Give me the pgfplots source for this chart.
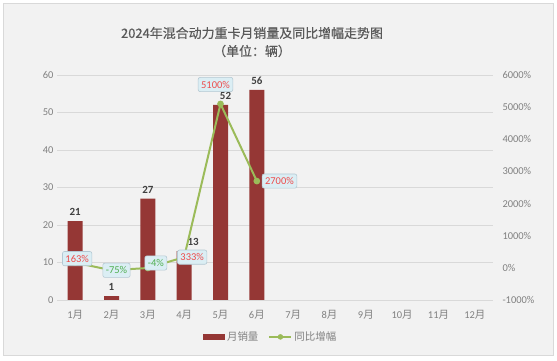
\documentclass[border=0pt]{standalone}
\usepackage{pgfplots}
\pgfplotsset{compat=1.18}
\usepackage{fontspec}
\setmainfont{Carlito}
\newfontfamily\cjk{Noto Sans CJK SC}
\newfontfamily\cjkt[FakeBold=0.5]{Noto Sans CJK SC}
\definecolor{barred}{HTML}{953735}
\definecolor{lgreen}{HTML}{9BBB59}
\definecolor{tickgray}{HTML}{808080}
\definecolor{titlegray}{HTML}{595959}
\definecolor{gridgray}{HTML}{D9D9D9}
\definecolor{panel}{HTML}{F2F2F2}
\definecolor{lblbox}{HTML}{DBEEF4}
\definecolor{lblborder}{HTML}{B4C8D2}
\definecolor{posred}{HTML}{EE4B4B}
\definecolor{neggreen}{HTML}{4FAE4F}
\definecolor{valgray}{HTML}{404040}
\tikzset{lbl/.style={fill=lblbox, draw=lblborder, rounded corners=2bp, inner xsep=3bp, inner ysep=3.5bp, font=\fontsize{10.5}{12}\selectfont, line width=0.6pt}}
\begin{document}
\begin{tikzpicture}
\fill[white] (0bp,0bp) rectangle (557bp,361bp);
\filldraw[fill=panel, draw=gridgray] (3bp,6bp) rectangle (553bp,358bp);
\node[font=\cjkt\fontsize{13}{15}\selectfont, text=titlegray] at (252bp,328bp) {2024年混合动力重卡月销量及同比增幅走势图};
\node[font=\cjkt\fontsize{13}{15}\selectfont, text=titlegray] at (252bp,310bp) {（单位：辆）};
\begin{axis}[
  at={(57bp,61bp)}, anchor=south west, scale only axis, width=436bp, height=225bp,
  xmin=-0.5, xmax=11.5, ymin=0, ymax=60, ytick={0,10,...,60},
  xtick={0,...,11},
  xticklabels={1{\cjk 月},2{\cjk 月},3{\cjk 月},4{\cjk 月},5{\cjk 月},6{\cjk 月},7{\cjk 月},8{\cjk 月},9{\cjk 月},10{\cjk 月},11{\cjk 月},12{\cjk 月}},
  axis line style={draw=none}, major tick length=0,
  ymajorgrids, grid style={gridgray, line width=0.8pt},
  tick label style={text=tickgray, font=\fontsize{10.5}{12}\selectfont},
  xticklabel style={yshift=-7bp},
  /pgf/number format/assume math mode=true,
  ybar, bar width=15bp,
  legend style={at={(0.49,-0.164)}, anchor=center, draw=none, fill=none, legend columns=2,
    font=\fontsize{10.5}{12}\selectfont, text=tickgray,
    /tikz/every even column/.append style={column sep=8bp}},
]
\addplot[fill=barred, draw=none,
  nodes near coords,
  visualization depends on={x \as \xv},
  nodes near coords style={font=\bfseries\fontsize{11}{13}\selectfont, text=valgray, yshift=2bp,
     xshift={ifthenelse(\xv==4,5,ifthenelse(\xv==3,9,0))*1bp}},
  legend image code/.code={\fill[barred] (0bp,-3bp) rectangle (22bp,3bp);}]
  coordinates {(0,21)(1,1)(2,27)(3,13)(4,52)(5,56)};
\addlegendentry{{\cjk 月销量}}
\addlegendimage{legend image code/.code={\draw[lgreen,line width=2pt] (0bp,0bp)--(22bp,0bp); \fill[lgreen] (11bp,0bp) circle (2.5bp);}}
\addlegendentry{{\cjk 同比增幅}}
\end{axis}
\begin{axis}[
  at={(57bp,61bp)}, anchor=south west, scale only axis, width=436bp, height=225bp,
  xmin=-0.5, xmax=11.5, ymin=-1000, ymax=6000, ytick={-1000,0,1000,...,6000},
  axis y line*=right, axis x line=none, major tick length=0,
  y axis line style={draw=none},
  scaled y ticks=false,
  /pgf/number format/1000 sep={},
  /pgf/number format/assume math mode=true,
  yticklabel={\pgfmathprintnumber{\tick}\%},
  tick label style={text=tickgray, font=\fontsize{10.5}{12}\selectfont},
  yticklabel style={xshift=6bp},
  clip=false,
]
\addplot[lgreen, line width=2pt, mark=*, mark size=2.3pt, mark options={fill=lgreen, draw=lgreen}]
  coordinates {(0,163)(1,-75)(2,-4)(3,333)(4,5100)(5,2700)};
\addplot[draw=none, mark=none, nodes near coords, point meta=explicit symbolic,
  every node near coord/.append style={lbl, text=posred, anchor=center, yshift=4bp, xshift=2bp}]
  coordinates {(0,163) [163\%]};
\addplot[draw=none, mark=none, nodes near coords, point meta=explicit symbolic,
  every node near coord/.append style={lbl, text=posred, anchor=center, yshift=0bp, xshift=8bp}]
  coordinates {(3,333) [333\%]};
\addplot[draw=none, mark=none, nodes near coords, point meta=explicit symbolic,
  every node near coord/.append style={lbl, text=neggreen, anchor=center, xshift=5bp, yshift=0bp}]
  coordinates {(1,-75) [-75\%]};
\addplot[draw=none, mark=none, nodes near coords, point meta=explicit symbolic,
  every node near coord/.append style={lbl, text=neggreen, anchor=center, xshift=8bp, yshift=5bp}]
  coordinates {(2,-4) [-4\%]};
\addplot[draw=none, mark=none, nodes near coords, point meta=explicit symbolic,
  every node near coord/.append style={lbl, text=posred, anchor=south, xshift=-5bp, yshift=12bp}]
  coordinates {(4,5100) [5100\%]};
\addplot[draw=none, mark=none, nodes near coords, point meta=explicit symbolic,
  every node near coord/.append style={lbl, text=posred, anchor=west, xshift=5bp}]
  coordinates {(5,2700) [2700\%]};
\end{axis}
\pgfresetboundingbox
\path[use as bounding box] (0bp,0bp) rectangle (557bp,361bp);
\end{tikzpicture}
\end{document}
